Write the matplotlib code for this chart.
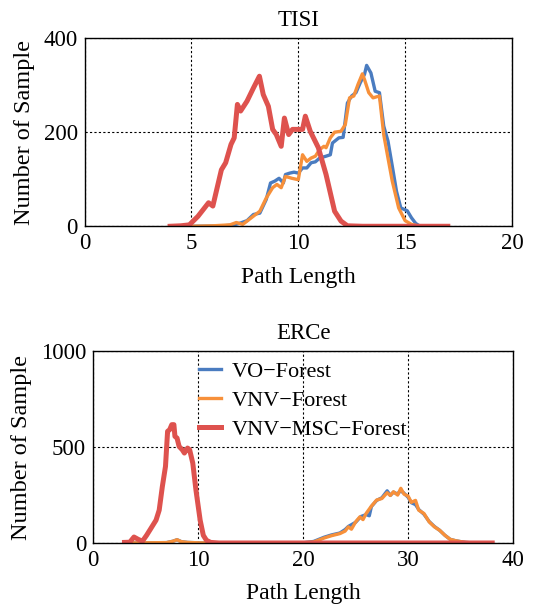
import numpy as np
import matplotlib.pyplot as plt

plt.rcParams['font.family'] = ['Liberation Serif', 'DejaVu Serif']
plt.rcParams['font.size'] = 16

# TISI
tisi_red_x = [4.0, 4.5, 4.9, 5.3, 5.8, 6.0, 6.4, 6.6, 6.85, 7.0, 7.15, 7.3, 7.6, 7.9, 8.18, 8.36,
              8.6, 8.8, 8.97, 9.2, 9.35, 9.55, 9.73, 10.2, 10.33, 10.56, 10.94, 11.3, 11.7, 12.0,
              12.3, 13.0, 15.0, 17.0]
tisi_red_y = [0, 1, 3, 21, 50, 43, 120, 135, 174, 188, 259, 245, 266, 294, 319, 280,
              255, 206, 195, 170, 230, 195, 206, 206, 234, 202, 167, 110, 32, 11,
              1, 0, 0, 0]

tisi_vo_x = [5.0, 6.5, 7.0, 7.3, 7.6, 7.9, 8.2, 8.5, 8.7, 8.9, 9.1, 9.3, 9.4, 9.6, 9.8, 10.0,
             10.2, 10.4, 10.6, 10.8, 11.0, 11.3, 11.5, 11.6, 11.9, 12.1, 12.3, 12.5, 12.7, 12.9,
             13.1, 13.2, 13.4, 13.6, 13.8, 14.0, 14.2, 14.4, 14.6, 14.8, 15.1, 15.3, 15.5, 15.7, 16.0]
tisi_vo_y = [0, 1, 3, 7, 12, 25, 28, 57, 92, 96, 102, 92, 110, 113, 115, 113,
             124, 124, 135, 137, 145, 149, 152, 177, 188, 189, 262, 277, 284, 305,
             323, 342, 326, 287, 284, 213, 181, 128, 74, 39, 33, 18, 6, 0, 0]

tisi_vnv_x = [5.0, 6.0, 6.8, 7.1, 7.4, 7.8, 8.0, 8.2, 8.5, 8.8, 9.0, 9.2, 9.4, 9.7, 10.0, 10.2,
              10.4, 10.6, 10.8, 11.0, 11.2, 11.3, 11.5, 11.7, 12.0, 12.2, 12.4, 12.6, 12.8, 13.0,
              13.1, 13.3, 13.5, 13.8, 14.0, 14.2, 14.4, 14.7, 15.0, 15.3, 15.6, 15.9, 16.0]
tisi_vnv_y = [0, 1, 3, 8, 4, 18, 25, 32, 60, 82, 89, 82, 106, 102, 99, 152,
              138, 145, 149, 163, 170, 167, 188, 200, 202, 216, 273, 277, 302, 324,
              312, 284, 273, 277, 195, 145, 96, 39, 12, 4, 1, 0, 0]

# ERCe
erce_red_x = [3.0, 3.5, 3.9, 4.3, 4.7, 5.1, 5.5, 6.0, 6.3, 6.6, 6.9, 7.1, 7.3, 7.5, 7.7, 7.8,
              8.0, 8.2, 8.5, 8.7, 9.0, 9.2, 9.5, 9.8, 10.2, 10.5, 10.8, 11.2, 12.0, 20.0, 30.0, 38.0]
erce_red_y = [3, 4, 31, 19, 9, 40, 75, 119, 171, 294, 399, 582, 591, 617, 617, 556,
              547, 503, 486, 469, 495, 486, 416, 276, 119, 40, 14, 3, 0, 0, 0, 0]

erce_vo_x = [3.0, 7.0, 7.6, 8.0, 8.4, 9.0, 10.0, 11.0, 19.0, 20.0, 21.0, 22.0, 22.7, 23.5, 24.0,
             24.3, 25.0, 25.5, 26.0, 26.3, 26.5, 27.0, 27.5, 28.0, 28.3, 28.6, 29.0, 29.2, 29.5,
             30.0, 30.3, 30.7, 31.0, 31.5, 32.0, 32.5, 33.0, 33.5, 34.0, 34.5, 35.0, 35.5, 36.0,
             37.0, 38.0]
erce_vo_y = [0, 2, 9, 17, 7, 3, 1, 0, 0, 1, 8, 30, 42, 52, 70, 86, 108, 138, 148, 142, 190,
             222, 236, 272, 248, 265, 255, 270, 265, 238, 210, 200, 175, 150, 112, 86, 66, 40,
             19, 12, 7, 3, 1, 0, 0]

erce_vnv_x = [3.0, 7.0, 7.6, 8.0, 8.4, 9.0, 10.0, 11.0, 19.0, 20.0, 21.0, 22.0, 22.7, 23.5,
              24.0, 24.3, 24.6, 25.0, 25.4, 25.7, 26.0, 26.5, 27.0, 27.5, 28.0, 28.3, 28.6, 29.0,
              29.3, 29.6, 30.0, 30.3, 30.7, 31.0, 31.5, 32.0, 32.5, 33.0, 33.5, 34.0, 34.5, 35.0,
              35.5, 36.0, 37.0, 38.0]
erce_vnv_y = [0, 2, 9, 17, 7, 3, 1, 0, 0, 1, 5, 26, 38, 49, 62, 84, 72, 110, 136, 122, 154,
              192, 224, 232, 262, 248, 267, 250, 285, 255, 244, 212, 222, 171, 154, 110, 84, 66,
              40, 19, 12, 7, 3, 1, 0, 0]

c_vo = '#4a7cc0'
c_vnv = '#f7903a'
c_msc = '#de524e'

fig = plt.figure(figsize=(5.36, 6.05), dpi=100)
ax1 = fig.add_axes([0.158, 0.626, 0.797, 0.311])
ax2 = fig.add_axes([0.1735, 0.1025, 0.784, 0.317])

def style(ax, title):
    ax.set_title(title, fontsize=16.5, pad=9)
    ax.set_xlabel('Path Length', fontsize=17, labelpad=9)
    ax.set_ylabel('Number of Sample', fontsize=17.5, labelpad=6)
    ax.grid(True, linestyle=(0, (2, 2)), color='black', linewidth=0.8)
    ax.tick_params(length=0, labelsize=16.5, pad=5)
    for s in ax.spines.values():
        s.set_linewidth(1.0)

ax1.plot(tisi_vo_x, tisi_vo_y, color=c_vo, lw=2.4)
ax1.plot(tisi_vnv_x, tisi_vnv_y, color=c_vnv, lw=2.4)
ax1.plot(tisi_red_x, tisi_red_y, color=c_msc, lw=3.6)
ax1.set_xlim(0, 20)
ax1.set_ylim(0, 400)
ax1.set_xticks([0, 5, 10, 15, 20])
ax1.set_yticks([0, 200, 400])
style(ax1, 'TISI')

ax2.plot(erce_vo_x, erce_vo_y, color=c_vo, lw=2.4, label='VO\u2212Forest')
ax2.plot(erce_vnv_x, erce_vnv_y, color=c_vnv, lw=2.4, label='VNV\u2212Forest')
ax2.plot(erce_red_x, erce_red_y, color=c_msc, lw=3.6, label='VNV\u2212MSC\u2212Forest')
ax2.set_xlim(0, 40)
ax2.set_ylim(0, 1000)
ax2.set_xticks([0, 10, 20, 30, 40])
ax2.set_yticks([0, 500, 1000])
style(ax2, 'ERCe')
ax2.legend(loc='upper left', bbox_to_anchor=(0.215, 1.03), frameon=False, fontsize=16,
           handlelength=1.0, handletextpad=0.5, labelspacing=0.38, borderaxespad=0.3)

fig.savefig('out.png', dpi=100)
